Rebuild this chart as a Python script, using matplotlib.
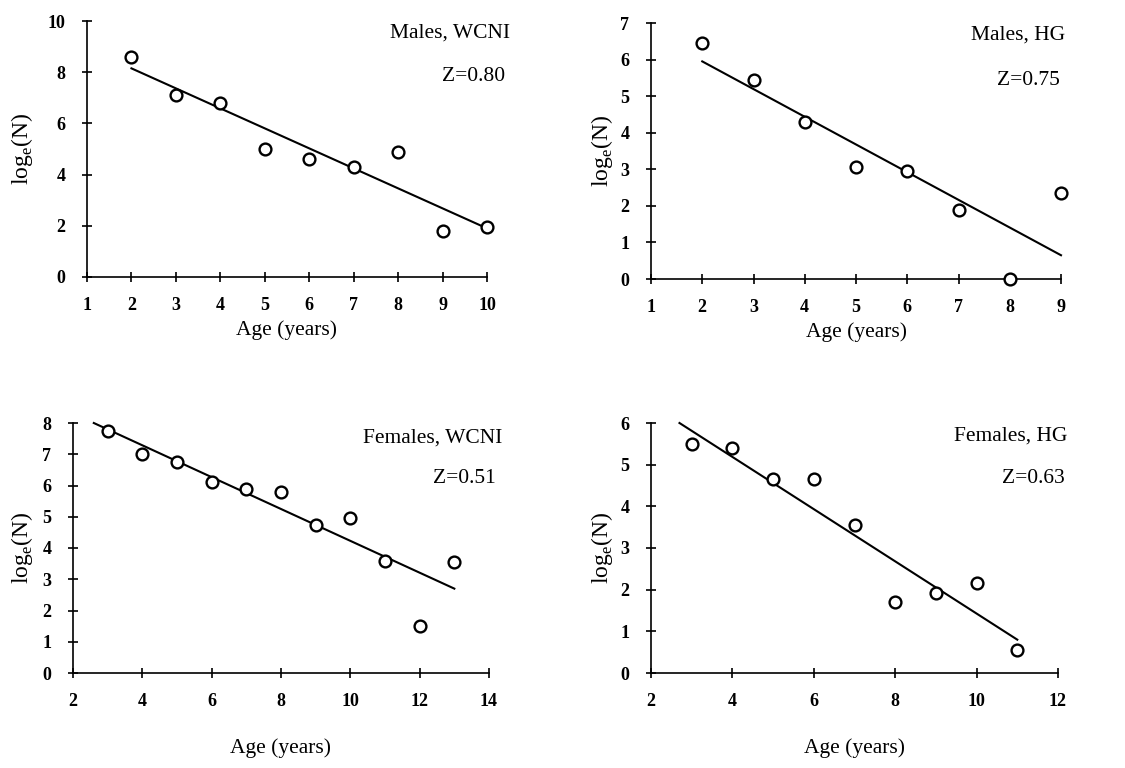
import matplotlib
matplotlib.use("Agg")
import matplotlib.pyplot as plt

plt.rcParams['font.family'] = ['Liberation Serif', 'DejaVu Serif']
plt.rcParams['mathtext.fontset'] = 'custom'
plt.rcParams['mathtext.rm'] = 'Liberation Serif'

# Panel 1: Males, WCNI
m_wcni_age = [2, 3, 4, 5, 6, 7, 8, 9, 10]
m_wcni_logn = [8.6, 7.1, 6.8, 5.0, 4.6, 4.3, 4.9, 1.8, 1.95]
m_wcni_fit_x = [2, 10]
m_wcni_fit_y = [8.15, 1.9]

# Panel 2: Males, HG
m_hg_age = [2, 3, 4, 5, 6, 7, 8, 9]
m_hg_logn = [6.45, 5.45, 4.3, 3.05, 2.95, 1.88, 0.0, 2.35]
m_hg_fit_x = [2, 9]
m_hg_fit_y = [5.95, 0.65]

# Panel 3: Females, WCNI
f_wcni_age = [3, 4, 5, 6, 7, 8, 9, 10, 11, 12, 13]
f_wcni_logn = [7.75, 7.0, 6.75, 6.1, 5.9, 5.8, 4.75, 4.95, 3.6, 1.5, 3.55]
f_wcni_fit_x = [2.6, 13]
f_wcni_fit_y = [8.0, 2.7]

# Panel 4: Females, HG
f_hg_age = [3, 4, 5, 6, 7, 8, 9, 10, 11]
f_hg_logn = [5.5, 5.4, 4.65, 4.65, 3.55, 1.7, 1.92, 2.15, 0.55]
f_hg_fit_x = [2.7, 11]
f_hg_fit_y = [6.0, 0.8]

titles = ["Males, WCNI", "Males, HG", "Females, WCNI", "Females, HG"]
z_labels = ["Z=0.80", "Z=0.75", "Z=0.51", "Z=0.63"]

W, H = 1125, 768
fig = plt.figure(figsize=(W / 100, H / 100), dpi=100)

def px_axes(l, r, t, b):
    return fig.add_axes([l / W, 1 - b / H, (r - l) / W, (b - t) / H])

panels = [
    dict(box=(87, 487, 21, 277), x=m_wcni_age, y=m_wcni_logn, fx=m_wcni_fit_x, fy=m_wcni_fit_y,
         xlim=(1, 10), xticks=range(1, 11), ylim=(0, 10), yticks=range(0, 11, 2),
         t_pos=(1.057, 0.953), z_pos=(1.045, 0.785), xl=-0.168, yl=-0.13),
    dict(box=(651, 1061, 23, 279), x=m_hg_age, y=m_hg_logn, fx=m_hg_fit_x, fy=m_hg_fit_y,
         xlim=(1, 9), xticks=range(1, 10), ylim=(0, 7), yticks=range(0, 8),
         t_pos=(1.01, 0.953), z_pos=(0.998, 0.777), xl=-0.168, yl=-0.088),
    dict(box=(73, 489, 423, 673), x=f_wcni_age, y=f_wcni_logn, fx=f_wcni_fit_x, fy=f_wcni_fit_y,
         xlim=(2, 14), xticks=range(2, 15, 2), ylim=(0, 8), yticks=range(0, 9),
         t_pos=(1.031, 0.94), z_pos=(1.017, 0.78), xl=-0.26, yl=-0.091),
    dict(box=(651, 1058, 423, 673), x=f_hg_age, y=f_hg_logn, fx=f_hg_fit_x, fy=f_hg_fit_y,
         xlim=(2, 12), xticks=range(2, 13, 2), ylim=(0, 6), yticks=range(0, 7),
         t_pos=(1.022, 0.948), z_pos=(1.017, 0.78), xl=-0.26, yl=-0.088),
]

for i, p in enumerate(panels):
    l, r, t, b = p['box']
    ax = px_axes(l, r, t, b)
    ax.plot(p['fx'], p['fy'], color='black', lw=1.5, clip_on=False)
    ax.plot(p['x'], p['y'], linestyle='none', marker='o', markersize=8.5,
            markerfacecolor='white', markeredgecolor='black', markeredgewidth=1.7,
            clip_on=False, zorder=3)
    ax.set_xlim(*p['xlim'])
    ax.set_ylim(*p['ylim'])
    ax.set_xticks(list(p['xticks']))
    ax.set_yticks(list(p['yticks']))
    for s in ['top', 'right']:
        ax.spines[s].set_visible(False)
    for s in ['left', 'bottom']:
        ax.spines[s].set_linewidth(1.2)
    ax.tick_params(direction='inout', length=7, width=1.2, labelsize=13)
    ax.tick_params(axis='x', pad=11)
    ax.tick_params(axis='y', pad=12)
    for lab in ax.get_xticklabels() + ax.get_yticklabels():
        lab.set_fontweight('bold')
    ax.set_xlabel("Age (years)", fontsize=15.5)
    ax.xaxis.set_label_coords(0.5, p['xl'])
    ax.set_ylabel(r"log$_{\mathrm{e}}$(N)", fontsize=17)
    ax.yaxis.set_label_coords(p['yl'], 0.5)
    ax.text(p['t_pos'][0], p['t_pos'][1], titles[i], transform=ax.transAxes,
            ha='right', va='center', fontsize=15.5)
    ax.text(p['z_pos'][0], p['z_pos'][1], z_labels[i], transform=ax.transAxes,
            ha='right', va='center', fontsize=15.5)

fig.savefig("out.png", dpi=100)
